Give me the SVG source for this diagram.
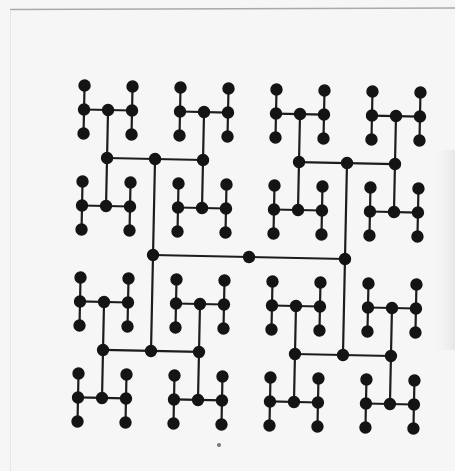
<svg xmlns="http://www.w3.org/2000/svg" width="455" height="471" viewBox="0 0 455 471">
<style>
.c{fill:none;stroke:#1c1c1c;stroke-width:2.2;stroke-linecap:butt}
.d{fill:#141414}
</style>
<defs>
<linearGradient id="sh" x1="0" y1="0" x2="1" y2="0">
<stop offset="0" stop-color="#f6f6f6" stop-opacity="0"/>
<stop offset="1" stop-color="#e6e6e6"/>
</linearGradient>
</defs>
<rect width="455" height="471" fill="#f6f6f6"/>
<line x1="10" y1="9.5" x2="455" y2="8" stroke="#a9a9a9" stroke-width="1.5"/>
<line x1="10.5" y1="10" x2="10.5" y2="471" stroke="#e6e6e6" stroke-width="1"/>
<rect x="432" y="150" width="23" height="200" fill="url(#sh)"/>
<circle cx="219" cy="445" r="2" fill="#777"/>
<g transform="rotate(1.2 249 257)">
<g id="connectors">
<path class="c" d="M153 257H345"/>
<path class="c" d="M153 161V353M345 161V353"/>
<path class="c" d="M105 161H201M105 353H201M297 161H393M297 353H393"/>
<path class="c" d="M105 113V209M105 305V401M201 113V209M201 305V401M297 113V209M297 305V401M393 113V209M393 305V401"/>
<path class="c" d="M81 113H129M177 113H225M273 113H321M369 113H417M81 209H129M177 209H225M273 209H321M369 209H417M81 305H129M177 305H225M273 305H321M369 305H417M81 401H129M177 401H225M273 401H321M369 401H417"/>
<path class="c" d="M81 89V137M81 185V233M81 281V329M81 377V425M129 89V137M129 185V233M129 281V329M129 377V425M177 89V137M177 185V233M177 281V329M177 377V425M225 89V137M225 185V233M225 281V329M225 377V425M273 89V137M273 185V233M273 281V329M273 377V425M321 89V137M321 185V233M321 281V329M321 377V425M369 89V137M369 185V233M369 281V329M369 377V425M417 89V137M417 185V233M417 281V329M417 377V425"/>
</g>
<g id="nodes">
<g id="n-249-257"><circle class="d" cx="249" cy="257" r="6.2"/></g>
<g id="n-153-257"><circle class="d" cx="153" cy="257" r="6.2"/></g>
<g id="n-345-257"><circle class="d" cx="345" cy="257" r="6.2"/></g>
<g id="n-153-161"><circle class="d" cx="153" cy="161" r="6.2"/></g>
<g id="n-153-353"><circle class="d" cx="153" cy="353" r="6.2"/></g>
<g id="n-345-161"><circle class="d" cx="345" cy="161" r="6.2"/></g>
<g id="n-345-353"><circle class="d" cx="345" cy="353" r="6.2"/></g>
<g id="n-105-161"><circle class="d" cx="105" cy="161" r="6.2"/></g>
<g id="n-201-161"><circle class="d" cx="201" cy="161" r="6.2"/></g>
<g id="n-297-161"><circle class="d" cx="297" cy="161" r="6.2"/></g>
<g id="n-393-161"><circle class="d" cx="393" cy="161" r="6.2"/></g>
<g id="n-105-353"><circle class="d" cx="105" cy="353" r="6.2"/></g>
<g id="n-201-353"><circle class="d" cx="201" cy="353" r="6.2"/></g>
<g id="n-297-353"><circle class="d" cx="297" cy="353" r="6.2"/></g>
<g id="n-393-353"><circle class="d" cx="393" cy="353" r="6.2"/></g>
<g id="n-105-113"><circle class="d" cx="105" cy="113" r="6.2"/></g>
<g id="n-105-209"><circle class="d" cx="105" cy="209" r="6.2"/></g>
<g id="n-105-305"><circle class="d" cx="105" cy="305" r="6.2"/></g>
<g id="n-105-401"><circle class="d" cx="105" cy="401" r="6.2"/></g>
<g id="n-201-113"><circle class="d" cx="201" cy="113" r="6.2"/></g>
<g id="n-201-209"><circle class="d" cx="201" cy="209" r="6.2"/></g>
<g id="n-201-305"><circle class="d" cx="201" cy="305" r="6.2"/></g>
<g id="n-201-401"><circle class="d" cx="201" cy="401" r="6.2"/></g>
<g id="n-297-113"><circle class="d" cx="297" cy="113" r="6.2"/></g>
<g id="n-297-209"><circle class="d" cx="297" cy="209" r="6.2"/></g>
<g id="n-297-305"><circle class="d" cx="297" cy="305" r="6.2"/></g>
<g id="n-297-401"><circle class="d" cx="297" cy="401" r="6.2"/></g>
<g id="n-393-113"><circle class="d" cx="393" cy="113" r="6.2"/></g>
<g id="n-393-209"><circle class="d" cx="393" cy="209" r="6.2"/></g>
<g id="n-393-305"><circle class="d" cx="393" cy="305" r="6.2"/></g>
<g id="n-393-401"><circle class="d" cx="393" cy="401" r="6.2"/></g>
<g id="n-81-113"><circle class="d" cx="81" cy="113" r="6.2"/></g>
<g id="n-129-113"><circle class="d" cx="129" cy="113" r="6.2"/></g>
<g id="n-177-113"><circle class="d" cx="177" cy="113" r="6.2"/></g>
<g id="n-225-113"><circle class="d" cx="225" cy="113" r="6.2"/></g>
<g id="n-273-113"><circle class="d" cx="273" cy="113" r="6.2"/></g>
<g id="n-321-113"><circle class="d" cx="321" cy="113" r="6.2"/></g>
<g id="n-369-113"><circle class="d" cx="369" cy="113" r="6.2"/></g>
<g id="n-417-113"><circle class="d" cx="417" cy="113" r="6.2"/></g>
<g id="n-81-209"><circle class="d" cx="81" cy="209" r="6.2"/></g>
<g id="n-129-209"><circle class="d" cx="129" cy="209" r="6.2"/></g>
<g id="n-177-209"><circle class="d" cx="177" cy="209" r="6.2"/></g>
<g id="n-225-209"><circle class="d" cx="225" cy="209" r="6.2"/></g>
<g id="n-273-209"><circle class="d" cx="273" cy="209" r="6.2"/></g>
<g id="n-321-209"><circle class="d" cx="321" cy="209" r="6.2"/></g>
<g id="n-369-209"><circle class="d" cx="369" cy="209" r="6.2"/></g>
<g id="n-417-209"><circle class="d" cx="417" cy="209" r="6.2"/></g>
<g id="n-81-305"><circle class="d" cx="81" cy="305" r="6.2"/></g>
<g id="n-129-305"><circle class="d" cx="129" cy="305" r="6.2"/></g>
<g id="n-177-305"><circle class="d" cx="177" cy="305" r="6.2"/></g>
<g id="n-225-305"><circle class="d" cx="225" cy="305" r="6.2"/></g>
<g id="n-273-305"><circle class="d" cx="273" cy="305" r="6.2"/></g>
<g id="n-321-305"><circle class="d" cx="321" cy="305" r="6.2"/></g>
<g id="n-369-305"><circle class="d" cx="369" cy="305" r="6.2"/></g>
<g id="n-417-305"><circle class="d" cx="417" cy="305" r="6.2"/></g>
<g id="n-81-401"><circle class="d" cx="81" cy="401" r="6.2"/></g>
<g id="n-129-401"><circle class="d" cx="129" cy="401" r="6.2"/></g>
<g id="n-177-401"><circle class="d" cx="177" cy="401" r="6.2"/></g>
<g id="n-225-401"><circle class="d" cx="225" cy="401" r="6.2"/></g>
<g id="n-273-401"><circle class="d" cx="273" cy="401" r="6.2"/></g>
<g id="n-321-401"><circle class="d" cx="321" cy="401" r="6.2"/></g>
<g id="n-369-401"><circle class="d" cx="369" cy="401" r="6.2"/></g>
<g id="n-417-401"><circle class="d" cx="417" cy="401" r="6.2"/></g>
<g id="n-81-89"><circle class="d" cx="81" cy="89" r="6.2"/></g>
<g id="n-81-137"><circle class="d" cx="81" cy="137" r="6.2"/></g>
<g id="n-81-185"><circle class="d" cx="81" cy="185" r="6.2"/></g>
<g id="n-81-233"><circle class="d" cx="81" cy="233" r="6.2"/></g>
<g id="n-81-281"><circle class="d" cx="81" cy="281" r="6.2"/></g>
<g id="n-81-329"><circle class="d" cx="81" cy="329" r="6.2"/></g>
<g id="n-81-377"><circle class="d" cx="81" cy="377" r="6.2"/></g>
<g id="n-81-425"><circle class="d" cx="81" cy="425" r="6.2"/></g>
<g id="n-129-89"><circle class="d" cx="129" cy="89" r="6.2"/></g>
<g id="n-129-137"><circle class="d" cx="129" cy="137" r="6.2"/></g>
<g id="n-129-185"><circle class="d" cx="129" cy="185" r="6.2"/></g>
<g id="n-129-233"><circle class="d" cx="129" cy="233" r="6.2"/></g>
<g id="n-129-281"><circle class="d" cx="129" cy="281" r="6.2"/></g>
<g id="n-129-329"><circle class="d" cx="129" cy="329" r="6.2"/></g>
<g id="n-129-377"><circle class="d" cx="129" cy="377" r="6.2"/></g>
<g id="n-129-425"><circle class="d" cx="129" cy="425" r="6.2"/></g>
<g id="n-177-89"><circle class="d" cx="177" cy="89" r="6.2"/></g>
<g id="n-177-137"><circle class="d" cx="177" cy="137" r="6.2"/></g>
<g id="n-177-185"><circle class="d" cx="177" cy="185" r="6.2"/></g>
<g id="n-177-233"><circle class="d" cx="177" cy="233" r="6.2"/></g>
<g id="n-177-281"><circle class="d" cx="177" cy="281" r="6.2"/></g>
<g id="n-177-329"><circle class="d" cx="177" cy="329" r="6.2"/></g>
<g id="n-177-377"><circle class="d" cx="177" cy="377" r="6.2"/></g>
<g id="n-177-425"><circle class="d" cx="177" cy="425" r="6.2"/></g>
<g id="n-225-89"><circle class="d" cx="225" cy="89" r="6.2"/></g>
<g id="n-225-137"><circle class="d" cx="225" cy="137" r="6.2"/></g>
<g id="n-225-185"><circle class="d" cx="225" cy="185" r="6.2"/></g>
<g id="n-225-233"><circle class="d" cx="225" cy="233" r="6.2"/></g>
<g id="n-225-281"><circle class="d" cx="225" cy="281" r="6.2"/></g>
<g id="n-225-329"><circle class="d" cx="225" cy="329" r="6.2"/></g>
<g id="n-225-377"><circle class="d" cx="225" cy="377" r="6.2"/></g>
<g id="n-225-425"><circle class="d" cx="225" cy="425" r="6.2"/></g>
<g id="n-273-89"><circle class="d" cx="273" cy="89" r="6.2"/></g>
<g id="n-273-137"><circle class="d" cx="273" cy="137" r="6.2"/></g>
<g id="n-273-185"><circle class="d" cx="273" cy="185" r="6.2"/></g>
<g id="n-273-233"><circle class="d" cx="273" cy="233" r="6.2"/></g>
<g id="n-273-281"><circle class="d" cx="273" cy="281" r="6.2"/></g>
<g id="n-273-329"><circle class="d" cx="273" cy="329" r="6.2"/></g>
<g id="n-273-377"><circle class="d" cx="273" cy="377" r="6.2"/></g>
<g id="n-273-425"><circle class="d" cx="273" cy="425" r="6.2"/></g>
<g id="n-321-89"><circle class="d" cx="321" cy="89" r="6.2"/></g>
<g id="n-321-137"><circle class="d" cx="321" cy="137" r="6.2"/></g>
<g id="n-321-185"><circle class="d" cx="321" cy="185" r="6.2"/></g>
<g id="n-321-233"><circle class="d" cx="321" cy="233" r="6.2"/></g>
<g id="n-321-281"><circle class="d" cx="321" cy="281" r="6.2"/></g>
<g id="n-321-329"><circle class="d" cx="321" cy="329" r="6.2"/></g>
<g id="n-321-377"><circle class="d" cx="321" cy="377" r="6.2"/></g>
<g id="n-321-425"><circle class="d" cx="321" cy="425" r="6.2"/></g>
<g id="n-369-89"><circle class="d" cx="369" cy="89" r="6.2"/></g>
<g id="n-369-137"><circle class="d" cx="369" cy="137" r="6.2"/></g>
<g id="n-369-185"><circle class="d" cx="369" cy="185" r="6.2"/></g>
<g id="n-369-233"><circle class="d" cx="369" cy="233" r="6.2"/></g>
<g id="n-369-281"><circle class="d" cx="369" cy="281" r="6.2"/></g>
<g id="n-369-329"><circle class="d" cx="369" cy="329" r="6.2"/></g>
<g id="n-369-377"><circle class="d" cx="369" cy="377" r="6.2"/></g>
<g id="n-369-425"><circle class="d" cx="369" cy="425" r="6.2"/></g>
<g id="n-417-89"><circle class="d" cx="417" cy="89" r="6.2"/></g>
<g id="n-417-137"><circle class="d" cx="417" cy="137" r="6.2"/></g>
<g id="n-417-185"><circle class="d" cx="417" cy="185" r="6.2"/></g>
<g id="n-417-233"><circle class="d" cx="417" cy="233" r="6.2"/></g>
<g id="n-417-281"><circle class="d" cx="417" cy="281" r="6.2"/></g>
<g id="n-417-329"><circle class="d" cx="417" cy="329" r="6.2"/></g>
<g id="n-417-377"><circle class="d" cx="417" cy="377" r="6.2"/></g>
<g id="n-417-425"><circle class="d" cx="417" cy="425" r="6.2"/></g>
</g>
</g>
</svg>
